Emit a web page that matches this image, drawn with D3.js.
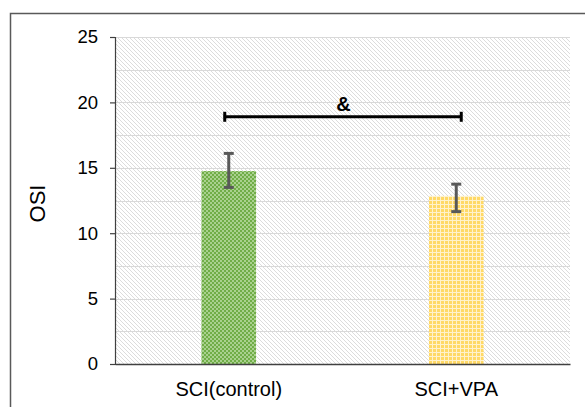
<!DOCTYPE html>
<html>
<head>
<meta charset="utf-8">
<script src="https://cdn.jsdelivr.net/npm/d3@7"></script>
<style>
  body { margin: 0; background: #fff; }
  text { font-family: "Liberation Sans", Arial, sans-serif; }
</style>
</head>
<body>
<div id="chart"></div>
<script>
// chart data
var groups = ["SCI(control)", "SCI+VPA"];
var means = [14.75, 12.85];
var errUp = [1.35, 0.9];
var errDown = [1.25, 1.2];
var yTicks = [0, 5, 10, 15, 20, 25];
var gridVals = [2.5, 5, 7.5, 10, 12.5, 15, 17.5, 20, 22.5, 25];
var sigLevel = 18.9;
var sigLabel = "&";
var yLabel = "OSI";

var width = 585, height = 407;
var margin = { left: 115, right: 15, top: 37, bottom: 43 };

var svg = d3.select("#chart").append("svg")
  .attr("width", width)
  .attr("height", height);

var defs = svg.append("defs");

// background diagonal hatch
var hatch = defs.append("pattern")
  .attr("id", "hatch")
  .attr("patternUnits", "userSpaceOnUse")
  .attr("width", 4).attr("height", 4);
hatch.append("rect").attr("width", 4).attr("height", 4).attr("fill", "#fff");
hatch.append("path")
  .attr("d", "M0,0 L4,4 M-1,3 L1,5 M3,-1 L5,1")
  .attr("stroke", "#dcdcdc").attr("stroke-width", 1);

// green checker
var green = defs.append("pattern")
  .attr("id", "greenPat")
  .attr("patternUnits", "userSpaceOnUse")
  .attr("width", 4).attr("height", 4);
green.append("rect").attr("width", 4).attr("height", 4).attr("fill", "#70ad47");
green.append("rect").attr("x", 0).attr("y", 0).attr("width", 2).attr("height", 2).attr("fill", "#a9d18e");
green.append("rect").attr("x", 2).attr("y", 2).attr("width", 2).attr("height", 2).attr("fill", "#a9d18e");

// yellow grid
var yellow = defs.append("pattern")
  .attr("id", "yellowPat")
  .attr("patternUnits", "userSpaceOnUse")
  .attr("width", 4).attr("height", 4);
yellow.append("rect").attr("width", 4).attr("height", 4).attr("fill", "#ffd966");
yellow.append("rect").attr("x", 0).attr("y", 0).attr("width", 4).attr("height", 1).attr("fill", "#fff2cc");
yellow.append("rect").attr("x", 0).attr("y", 0).attr("width", 1).attr("height", 4).attr("fill", "#fff2cc");

// outer frame
svg.append("rect")
  .attr("x", 10.5).attr("y", 13.5)
  .attr("width", 600).attr("height", 420)
  .attr("fill", "none")
  .attr("stroke", "#595959")
  .attr("stroke-width", 1.5);

var x = d3.scaleBand()
  .domain(groups)
  .range([margin.left, width - margin.right])
  .paddingInner(0.76)
  .paddingOuter(0.38);

var y = d3.scaleLinear()
  .domain([0, 25])
  .range([height - margin.bottom, margin.top]);

// plot area background
svg.append("rect")
  .attr("x", margin.left)
  .attr("y", y(25))
  .attr("width", width - margin.right - margin.left)
  .attr("height", y(0) - y(25))
  .attr("fill", "url(#hatch)");

// gridlines
svg.selectAll(".grid")
  .data(gridVals)
  .enter().append("line")
  .attr("class", "grid")
  .attr("x1", margin.left)
  .attr("x2", width - margin.right)
  .attr("y1", function(d) { return Math.round(y(d)) + 0.5; })
  .attr("y2", function(d) { return Math.round(y(d)) + 0.5; })
  .attr("stroke", "#d9d9d9")
  .attr("stroke-width", 1.2);

// bars
var fills = ["url(#greenPat)", "url(#yellowPat)"];
svg.selectAll(".bar")
  .data(groups)
  .enter().append("rect")
  .attr("class", "bar")
  .attr("x", function(d) { return x(d); })
  .attr("width", x.bandwidth())
  .attr("y", function(d, i) { return y(means[i]); })
  .attr("height", function(d, i) { return y(0) - y(means[i]); })
  .attr("fill", function(d, i) { return fills[i]; });

// error bars
var eb = svg.selectAll(".err")
  .data(groups)
  .enter().append("g")
  .attr("class", "err")
  .attr("stroke", "#595959")
  .attr("stroke-width", 3);
eb.append("line")
  .attr("x1", function(d) { return x(d) + x.bandwidth() / 2; })
  .attr("x2", function(d) { return x(d) + x.bandwidth() / 2; })
  .attr("y1", function(d, i) { return y(means[i] + errUp[i]); })
  .attr("y2", function(d, i) { return y(means[i] - errDown[i]); });
eb.append("line")
  .attr("x1", function(d) { return x(d) + x.bandwidth() / 2 - 5; })
  .attr("x2", function(d) { return x(d) + x.bandwidth() / 2 + 5; })
  .attr("y1", function(d, i) { return y(means[i] + errUp[i]); })
  .attr("y2", function(d, i) { return y(means[i] + errUp[i]); });
eb.append("line")
  .attr("x1", function(d) { return x(d) + x.bandwidth() / 2 - 5; })
  .attr("x2", function(d) { return x(d) + x.bandwidth() / 2 + 5; })
  .attr("y1", function(d, i) { return y(means[i] - errDown[i]); })
  .attr("y2", function(d, i) { return y(means[i] - errDown[i]); });

// y axis
var yAxis = svg.append("g")
  .attr("transform", "translate(" + margin.left + ",0)")
  .call(d3.axisLeft(y).tickValues(yTicks).tickSize(5).tickPadding(12));
yAxis.select(".domain").attr("stroke", "#404040").attr("stroke-width", 1.2);
yAxis.selectAll(".tick line").attr("stroke", "#404040").attr("stroke-width", 1.2);
yAxis.selectAll(".tick text")
  .style("font-size", "18.5px")
  .attr("fill", "#000")
  .style("font-family", "'Liberation Sans', Arial, sans-serif");

// x axis
var xAxis = svg.append("g")
  .attr("transform", "translate(0," + y(0) + ")")
  .call(d3.axisBottom(x).tickSize(0).tickPadding(18));
xAxis.select(".domain").attr("stroke", "#404040").attr("stroke-width", 1.5);
xAxis.selectAll(".tick text")
  .style("font-size", "20px")
  .attr("fill", "#000")
  .style("font-family", "'Liberation Sans', Arial, sans-serif");

// y label
svg.append("text")
  .attr("transform", "translate(45," + (y(12.5) + 3) + ") rotate(-90)")
  .attr("text-anchor", "middle")
  .style("font-size", "22px")
  .text(yLabel);

// significance bracket
var cx0 = x(groups[0]) + x.bandwidth() / 2;
var cx1 = x(groups[1]) + x.bandwidth() / 2;
var sig = svg.append("g").attr("stroke", "#000").attr("stroke-width", 3);
sig.append("line")
  .attr("x1", cx0 - 5).attr("x2", cx1 + 5)
  .attr("y1", y(sigLevel)).attr("y2", y(sigLevel));
sig.append("line")
  .attr("x1", cx0 - 4).attr("x2", cx0 - 4)
  .attr("y1", y(sigLevel) - 5).attr("y2", y(sigLevel) + 5);
sig.append("line")
  .attr("x1", cx1 + 5).attr("x2", cx1 + 5)
  .attr("y1", y(sigLevel) - 5).attr("y2", y(sigLevel) + 5);
svg.append("text")
  .attr("x", (cx0 + cx1) / 2 + 1)
  .attr("y", y(sigLevel) - 6)
  .attr("text-anchor", "middle")
  .style("font-size", "20px")
  .style("font-weight", "bold")
  .text(sigLabel);
</script>
</body>
</html>
